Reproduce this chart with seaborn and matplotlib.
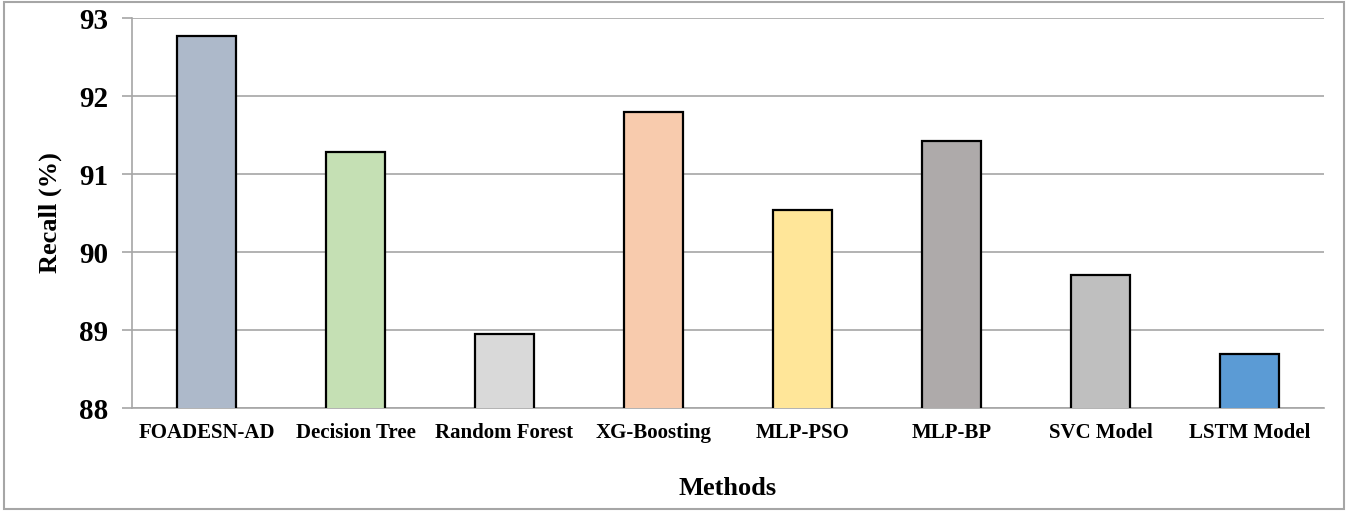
import matplotlib
matplotlib.use("Agg")
import matplotlib.pyplot as plt
import seaborn as sns
import pandas as pd
from matplotlib.patches import Rectangle

methods = ["FOADESN-AD", "Decision Tree", "Random Forest", "XG-Boosting",
           "MLP-PSO", "MLP-BP", "SVC Model", "LSTM Model"]
recall = [92.77, 91.28, 88.95, 91.79, 90.54, 91.42, 89.70, 88.69]
colors = ["#ADB9CA", "#C5E0B4", "#D9D9D9", "#F8CBAD",
          "#FFE699", "#AEAAAA", "#BFBFBF", "#5B9BD5"]

sns.set_style("white")
plt.rcParams["font.family"] = ["Liberation Serif", "DejaVu Serif"]
plt.rcParams["text.color"] = "black"
plt.rcParams["axes.labelcolor"] = "black"
plt.rcParams["xtick.labelcolor"] = "black"
plt.rcParams["ytick.labelcolor"] = "black"

df = pd.DataFrame({"Method": methods, "Recall": recall})

fig = plt.figure(figsize=(13.48, 5.11), dpi=100)
ax = fig.add_axes([132 / 1348, 1 - 408 / 511, (1324 - 132) / 1348, (408 - 18) / 511])

sns.barplot(data=df, x="Method", y="Recall", hue="Method", palette=colors,
            legend=False, width=0.4, edgecolor="black", linewidth=1.6,
            saturation=1, ax=ax, zorder=3)

ax.set_ylim(88, 93)
ax.set_xlim(-0.5, len(methods) - 0.5)
ax.set_yticks(range(88, 94))
ax.grid(axis="y", color="#A6A6A6", linewidth=1.2, zorder=0)
ax.set_axisbelow(True)

# tick marks sit between categories
ax.set_xticks([i - 0.5 for i in range(len(methods) + 1)], minor=True)
ax.tick_params(axis="x", which="minor", length=6, color="#A6A6A6", width=1.2, direction="out")
ax.tick_params(axis="x", which="major", length=0, pad=11, labelsize=15)
ax.tick_params(axis="y", length=7, color="#A6A6A6", width=1.2, direction="out", pad=10, labelsize=21)
ax.tick_params(axis="both", left=True, bottom=True)
for lbl in ax.get_xticklabels() + ax.get_yticklabels():
    lbl.set_fontweight("bold")

for side in ["top", "right"]:
    ax.spines[side].set_visible(False)
for side in ["left", "bottom"]:
    ax.spines[side].set_color("#A6A6A6")
    ax.spines[side].set_linewidth(1.2)

ax.set_xlabel("Methods", fontsize=19, fontweight="bold", labelpad=24)
ax.set_ylabel("Recall (%)", fontsize=19, fontweight="bold", labelpad=12)

fig.patches.append(Rectangle((0.003, 0.003), 0.994, 0.994, transform=fig.transFigure,
                             fill=False, edgecolor="#A6A6A6", linewidth=1.5))

fig.savefig("out.png", dpi=100)
